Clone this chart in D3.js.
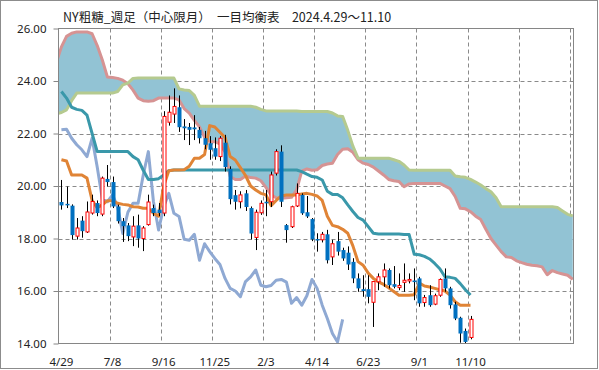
<!DOCTYPE html>
<html>
<head>
<meta charset="utf-8">
<script src="https://cdn.jsdelivr.net/npm/d3@7"></script>
<style>
  body { margin: 0; background: #fff; }
  text { font-family: "Noto Sans", "DejaVu Sans", sans-serif; }
</style>
</head>
<body>
<svg width="599" height="370"></svg>
<script>
// weekly bars, first week starts 2024-04-29 (bar drawn on the Friday)
var startDate = new Date(Date.UTC(2024, 3, 29));

var opens = [19.39, 19.32, 19.25, 18.09, 18.68, 18.25, 18.97, 19.35, 18.93, 20.27,
  20.15, 19.22, 18.66, 18.50, 18.06, 18.50, 18.00, 18.53, 19.16, 19.10,
  18.97, 22.43, 22.74, 23.00, 22.27, 22.25, 22.23, 22.14, 21.82, 21.63,
  21.44, 21.12, 21.65, 20.65, 19.65, 19.40, 19.72, 19.16, 18.04, 18.98,
  19.40, 19.40, 20.49, 21.31, 18.51, 18.45, 19.24, 19.66, 19.00, 18.74,
  17.98, 17.95, 18.16, 17.30, 17.90, 17.56, 17.46, 17.11, 16.48, 16.07,
  16.07, 15.57, 16.35, 16.54, 16.80, 16.26, 16.13, 16.33, 16.39, 16.40,
  16.48, 15.56, 15.84, 15.50, 15.84, 16.48, 16.10, 15.49, 14.98, 14.48,
  14.23];
var highs = [20.23, 19.98, 19.30, 18.78, 18.85, 19.41, 19.67, 19.45, 20.36, 20.80,
  20.36, 19.29, 18.78, 18.59, 18.85, 18.91, 18.47, 19.67, 19.29, 19.35,
  22.85, 23.45, 23.72, 23.45, 22.55, 22.40, 22.70, 22.25, 22.10, 21.90,
  21.85, 21.90, 21.95, 20.75, 19.85, 19.80, 19.85, 19.22, 19.10, 19.45,
  19.85, 20.55, 21.40, 21.55, 18.55, 19.25, 20.10, 19.72, 19.62, 18.78,
  18.20, 18.25, 18.33, 17.95, 18.25, 17.65, 17.70, 17.25, 16.67, 16.60,
  16.60, 16.38, 16.67, 17.05, 16.86, 16.95, 16.67, 17.05, 16.67, 16.86,
  16.54, 15.85, 16.22, 15.90, 16.48, 16.86, 16.16, 15.59, 15.02, 14.57,
  15.05];
var lows = [19.10, 19.16, 17.96, 17.96, 18.03, 18.21, 18.91, 18.85, 18.85, 19.98,
  19.16, 18.57, 17.87, 17.90, 17.71, 17.65, 17.52, 18.49, 18.85, 18.85,
  18.85, 22.30, 22.40, 22.06, 21.75, 21.56, 21.75, 21.62, 21.40, 21.00,
  21.00, 20.95, 20.55, 19.30, 19.10, 19.15, 19.05, 17.96, 17.56, 18.90,
  18.85, 19.20, 20.40, 19.20, 17.84, 18.40, 19.20, 18.90, 18.78, 17.90,
  17.50, 17.85, 17.05, 16.99, 17.35, 17.15, 16.80, 16.30, 15.97, 15.78,
  15.53, 14.63, 16.03, 16.16, 16.10, 16.10, 16.03, 15.97, 16.29, 15.65,
  15.40, 15.40, 15.40, 15.46, 15.78, 15.97, 15.33, 14.89, 14.03, 14.00,
  14.16];
var closes = [19.26, 19.28, 18.13, 18.40, 18.28, 19.01, 19.41, 18.97, 20.30, 20.15,
  19.22, 18.66, 18.47, 18.09, 18.47, 18.00, 18.40, 19.39, 18.97, 18.97,
  22.65, 22.81, 23.03, 22.24, 22.20, 22.14, 22.16, 21.82, 21.57, 21.38,
  21.12, 21.82, 20.72, 19.50, 19.40, 19.66, 19.20, 18.19, 19.00, 19.34,
  19.34, 20.42, 21.31, 19.40, 18.32, 19.21, 19.72, 18.96, 18.84, 17.97,
  17.93, 18.16, 17.17, 17.80, 17.50, 17.24, 17.01, 16.48, 16.10, 16.00,
  15.78, 16.36, 16.54, 16.80, 16.22, 16.16, 16.21, 16.41, 16.44, 16.34,
  15.53, 15.75, 15.46, 15.82, 16.44, 16.10, 15.46, 14.95, 14.38, 14.06,
  14.92];

// conversion line (tenkan) and base line (kijun), one per bar
var tenkan = [21.00, 20.95, 20.42, 20.42, 20.42, 20.30, 19.45, 19.17, 19.28, 19.44,
  19.44, 19.34, 19.30, 19.28, 19.21, 19.20, 19.15, 19.15, 18.96, 18.85,
  20.00, 20.58, 20.61, 20.61, 20.62, 20.75, 21.06, 21.06, 21.20, 22.30,
  22.25, 22.05, 21.85, 21.12, 20.99, 20.70, 20.40, 20.00, 19.85, 19.72,
  19.66, 19.25, 19.45, 19.62, 19.66, 19.66, 19.66, 19.70, 19.72, 19.68,
  19.62, 19.45, 18.85, 18.50, 18.45, 18.35, 18.20, 17.72, 17.12, 16.98,
  16.68, 16.48, 16.35, 16.25, 16.12, 15.98, 15.84, 15.84, 15.84, 15.86,
  16.30, 16.19, 16.15, 16.10, 16.05, 16.00, 15.84, 15.59, 15.46, 15.46,
  15.46];
var kijun = [23.60, 23.35, 23.00, 22.92, 22.88, 22.70, 22.00, 21.31, 21.31, 21.31,
  21.31, 21.31, 21.31, 21.31, 21.12, 21.00, 20.60, 20.25, 20.25, 20.28,
  20.42, 20.58, 20.61, 20.61, 20.61, 20.61, 20.61, 20.61, 20.61, 20.61,
  20.61, 20.61, 20.61, 20.61, 20.61, 20.61, 20.61, 20.61, 20.61, 20.61,
  20.61, 20.61, 20.61, 20.61, 20.61, 20.61, 20.61, 20.55, 20.45, 20.36,
  20.33, 20.23, 19.80, 19.68, 19.68, 19.55, 19.28, 19.03, 18.80, 18.70,
  18.45, 18.20, 18.17, 18.17, 18.17, 18.17, 18.17, 18.15, 18.15, 17.40,
  17.38, 17.32, 17.22, 17.05, 16.85, 16.54, 16.52, 16.48, 16.28, 16.05,
  15.85];

// lagging span (chikou), starts at the first bar
var chikou = [22.14, 22.16, 21.82, 21.57, 21.38, 21.12, 21.82, 20.72, 19.50, 19.40,
  19.66, 19.20, 18.19, 19.00, 19.34, 19.34, 20.42, 21.31, 19.40, 18.32,
  19.21, 19.72, 18.96, 18.84, 17.97, 17.93, 18.16, 17.17, 17.80, 17.50,
  17.24, 17.01, 16.48, 16.10, 16.00, 15.78, 16.36, 16.54, 16.80, 16.22,
  16.16, 16.21, 16.41, 16.44, 16.34, 15.53, 15.75, 15.46, 15.82, 16.44,
  16.10, 15.46, 14.95, 14.38, 14.06, 14.92];

// leading spans, first value is the week before 4/29
var spanStart = -1;
var spanA = [22.75, 22.80, 22.90, 23.25, 23.54, 23.54, 23.54, 23.54, 23.54, 23.54,
  23.54, 23.54, 23.60, 23.85, 23.92, 24.10, 24.11, 24.11, 24.11, 24.11,
  24.11, 24.11, 24.11, 24.11, 23.70, 23.66, 23.64, 23.45, 23.04, 23.04,
  23.04, 23.04, 23.04, 23.04, 23.04, 23.04, 23.04, 23.04, 23.04, 23.00,
  22.92, 22.86, 22.86, 22.86, 22.86, 22.86, 22.86, 22.86, 22.84, 22.84,
  22.84, 22.84, 22.84, 22.84, 22.78, 22.67, 22.65, 22.12, 21.52, 21.06,
  21.06, 21.06, 21.06, 21.06, 21.06, 21.06, 21.00, 20.94, 20.80, 20.61,
  20.60, 20.60, 20.60, 20.60, 20.60, 20.60, 20.60, 20.60, 20.38, 20.35,
  20.33, 20.25, 20.15, 20.04, 19.90, 19.78, 19.55, 19.21, 19.21, 19.21,
  19.21, 19.21, 19.21, 19.21, 19.21, 19.21, 19.21, 19.21, 19.18, 19.05,
  18.92, 18.86];
var spanB = [24.70, 25.30, 25.70, 25.82, 25.87, 25.87, 25.87, 25.80, 25.35, 24.80,
  24.15, 24.13, 24.10, 24.03, 23.90, 23.65, 23.35, 23.25, 23.23, 23.25,
  23.35, 23.35, 23.35, 23.35, 23.28, 22.95, 22.78, 22.50, 22.25, 21.85,
  21.69, 21.69, 21.60, 21.30, 20.36, 20.25, 20.25, 20.38, 20.32, 20.30,
  20.20, 19.95, 19.66, 19.55, 19.53, 19.55, 19.57, 19.85, 20.57, 20.65,
  20.60, 20.62, 20.78, 20.84, 20.87, 21.20, 21.40, 21.42, 21.28, 21.00,
  20.87, 20.82, 20.72, 20.57, 20.42, 20.25, 20.20, 20.17, 19.97, 20.08,
  20.10, 20.10, 20.10, 20.10, 20.10, 20.10, 20.00, 19.90, 19.60, 19.15,
  19.13, 19.02, 18.85, 18.72, 18.35, 18.00, 17.75, 17.50, 17.30, 17.28,
  17.15, 17.08, 17.02, 16.98, 16.96, 16.92, 16.62, 16.78, 16.70, 16.65,
  16.60, 16.44];

var yTicks = [14, 16, 18, 20, 22, 24, 26];
var xTickLabels = ["4/29", "7/8", "9/16", "11/25", "2/3", "4/14", "6/23", "9/1", "11/10"];
var gridEvery = 70;   // days between vertical grid lines
var gridCount = 10;

var title = "NY粗糖_週足（中心限月）　一目均衡表　2024.4.29～11.10";

var svg = d3.select("svg");
var pLeft = 58.5, pRight = 573.5, pTop = 28.5, pBottom = 343.5;

function barDate(i) { return d3.utcDay.offset(startDate, 7 * i + 4); }

var x = d3.scaleUtc()
  .domain([startDate, d3.utcDay.offset(startDate, 705)])
  .range([pLeft, pRight]);
var y = d3.scaleLinear().domain([14, 26]).range([pBottom, pTop]);

// outer frame
svg.append("rect")
  .attr("x", 0.5).attr("y", 0.5).attr("width", 597).attr("height", 368)
  .attr("fill", "#fff").attr("stroke", "#8c8c8c");

svg.append("defs").append("clipPath").attr("id", "plot")
  .append("rect").attr("x", pLeft).attr("y", pTop)
  .attr("width", pRight - pLeft).attr("height", pBottom - pTop);

// grid (behind the cloud)
var grid = svg.append("g").attr("stroke", "#8a8a8a").attr("stroke-dasharray", "4,3");
grid.selectAll("line.h")
  .data(yTicks.slice(1, -1))
  .enter().append("line")
  .attr("x1", pLeft).attr("x2", pRight)
  .attr("y1", d => Math.round(y(d)) + 0.5).attr("y2", d => Math.round(y(d)) + 0.5);
grid.selectAll("line.v")
  .data(d3.range(1, gridCount + 1))
  .enter().append("line")
  .attr("x1", k => Math.round(x(d3.utcDay.offset(startDate, k * gridEvery))) + 0.5)
  .attr("x2", k => Math.round(x(d3.utcDay.offset(startDate, k * gridEvery))) + 0.5)
  .attr("y1", pTop).attr("y2", pBottom);

var plot = svg.append("g").attr("clip-path", "url(#plot)");

// cloud
var cloudIdx = d3.range(spanA.length);
plot.append("path")
  .datum(cloudIdx)
  .attr("fill", "#92c3d4")
  .attr("d", d3.area()
    .x(i => x(barDate(i + spanStart)))
    .y0(i => y(spanA[i]))
    .y1(i => y(spanB[i])));

function drawLine(values, offset, color) {
  plot.append("path")
    .datum(values)
    .attr("fill", "none")
    .attr("stroke", color)
    .attr("stroke-width", 3)
    .attr("stroke-linejoin", "round")
    .attr("d", d3.line()
      .x((d, i) => x(barDate(i + offset)))
      .y(d => y(d)));
}

drawLine(spanB, spanStart, "#d69393");
drawLine(spanA, spanStart, "#b5ca8f");
drawLine(chikou, 0, "#8fa9d3");
drawLine(kijun, 0, "#3a98aa");
drawLine(tenkan, 0, "#e08436");

// candles
var bars = plot.selectAll("g.bar")
  .data(d3.range(closes.length))
  .enter().append("g");

bars.append("line")
  .attr("x1", i => Math.round(x(barDate(i))) + 0.5)
  .attr("x2", i => Math.round(x(barDate(i))) + 0.5)
  .attr("y1", i => y(highs[i]))
  .attr("y2", i => y(lows[i]))
  .attr("stroke", "#000");

bars.append("rect")
  .attr("x", i => Math.round(x(barDate(i))) - (closes[i] >= opens[i] ? 1 : 1.5))
  .attr("width", i => closes[i] >= opens[i] ? 3 : 4)
  .attr("y", i => y(Math.max(opens[i], closes[i])))
  .attr("height", i => Math.max(1.5, y(Math.min(opens[i], closes[i])) - y(Math.max(opens[i], closes[i]))))
  .attr("fill", i => closes[i] >= opens[i] ? "#fff" : "#0070c0")
  .attr("stroke", i => closes[i] >= opens[i] ? "#ff0000" : "none")
  .attr("stroke-width", 1);

// plot frame
svg.append("rect")
  .attr("x", pLeft).attr("y", pTop)
  .attr("width", pRight - pLeft).attr("height", pBottom - pTop)
  .attr("fill", "none").attr("stroke", "#868686");

// y axis
var yAxis = svg.append("g")
  .attr("transform", "translate(" + pLeft + ",0)")
  .call(d3.axisLeft(y).tickValues(yTicks).tickFormat(d3.format(".2f")).tickSize(5).tickPadding(7));
yAxis.select(".domain").remove();
yAxis.selectAll("line").attr("stroke", "#868686");
yAxis.selectAll("text")
  .attr("font-size", "11.5px").attr("fill", "#222")
  .style("font-family", "'Noto Sans', sans-serif");

// x labels
svg.append("g").selectAll("text")
  .data(xTickLabels)
  .enter().append("text")
  .attr("x", (d, k) => x(d3.utcDay.offset(startDate, k * gridEvery + 4)))
  .attr("y", 366)
  .attr("text-anchor", "middle")
  .attr("font-size", "11.5px")
  .attr("fill", "#222")
  .text(d => d);

// title
svg.append("text")
  .attr("x", 63).attr("y", 22)
  .attr("font-size", "12.5px")
  .attr("fill", "#222")
  .style("font-family", "'Noto Sans CJK JP', sans-serif")
  .text(title);
</script>
</body>
</html>
